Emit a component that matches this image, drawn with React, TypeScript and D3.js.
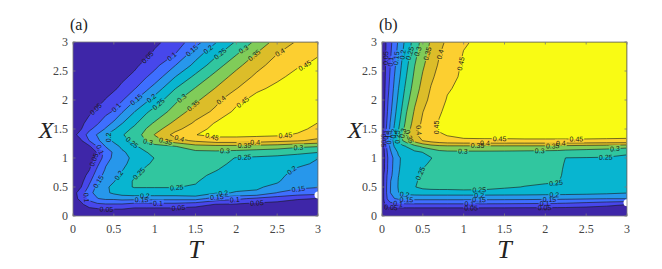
import React from 'react';
import * as d3 from 'd3';

// contour levels and the colour of each filled band (parula, 10 steps)
const levels = [0.05, 0.1, 0.15, 0.2, 0.25, 0.3, 0.35, 0.4, 0.45];
const bandColors = ['#3e26a8', '#4747eb', '#3e6fff', '#2797eb', '#08b5d0', '#31c69f', '#80cc59', '#dcbd29', '#fccf30', '#f9fb14'];

const axisTicks = [0, 0.5, 1, 1.5, 2, 2.5, 3];
const axisTickLabels = ['0', '0.5', '1', '1.5', '2', '2.5', '3'];

// panel (a): one array per T column, values from X = 0 up to X = 3
const tGridA = [0, 0.1, 0.2, 0.3, 0.4, 0.5, 0.6, 0.75, 0.9, 1, 1.25, 1.5, 1.75, 2, 2.25, 2.5, 2.75, 3];
const xGridA = [0, 0.1, 0.2, 0.3, 0.4, 0.5, 0.6, 0.7, 0.8, 0.9, 1, 1.1, 1.2, 1.3, 1.4, 1.5, 1.6, 1.8, 2, 2.2, 2.4, 2.6, 2.8, 3];
const columnsA = [
  [0, 0.01, 0.02, 0.03, 0.03, 0.02, 0.01, 0.01, 0.01, 0.01, 0.01, 0.01, 0.02, 0.03, 0.035, 0.02, 0.01, 0.01, 0.01, 0.01, 0.01, 0.01, 0.01, 0.01],
  [0, 0.02, 0.04, 0.065, 0.075, 0.049, 0.035, 0.025, 0.02, 0.02, 0.02, 0.02, 0.03, 0.045, 0.07, 0.048, 0.038, 0.03, 0.02, 0.01, 0.01, 0.01, 0.01, 0.01],
  [0, 0.03, 0.075, 0.115, 0.135, 0.11, 0.09, 0.068, 0.048, 0.035, 0.025, 0.03, 0.042, 0.102, 0.12, 0.09, 0.07, 0.04, 0.025, 0.015, 0.01, 0.01, 0.01, 0.01],
  [0, 0.035, 0.09, 0.148, 0.17, 0.165, 0.145, 0.13, 0.11, 0.09, 0.062, 0.053, 0.103, 0.14, 0.155, 0.12, 0.095, 0.06, 0.035, 0.02, 0.015, 0.01, 0.01, 0.01],
  [0, 0.04, 0.095, 0.16, 0.19, 0.19, 0.18, 0.165, 0.155, 0.145, 0.13, 0.125, 0.152, 0.18, 0.198, 0.155, 0.128, 0.085, 0.052, 0.035, 0.025, 0.018, 0.012, 0.01],
  [0, 0.04, 0.095, 0.16, 0.21, 0.215, 0.197, 0.185, 0.175, 0.168, 0.16, 0.157, 0.18, 0.21, 0.225, 0.195, 0.16, 0.105, 0.07, 0.043, 0.03, 0.022, 0.016, 0.012],
  [0, 0.04, 0.095, 0.167, 0.225, 0.24, 0.225, 0.21, 0.197, 0.19, 0.185, 0.192, 0.21, 0.235, 0.245, 0.225, 0.198, 0.145, 0.095, 0.06, 0.04, 0.028, 0.02, 0.015],
  [0, 0.028, 0.083, 0.167, 0.233, 0.252, 0.255, 0.245, 0.228, 0.215, 0.21, 0.22, 0.24, 0.262, 0.278, 0.262, 0.24, 0.198, 0.145, 0.095, 0.06, 0.04, 0.028, 0.02],
  [0, 0.028, 0.083, 0.167, 0.233, 0.252, 0.265, 0.268, 0.258, 0.245, 0.238, 0.249, 0.275, 0.303, 0.315, 0.302, 0.285, 0.243, 0.19, 0.14, 0.098, 0.065, 0.04, 0.03],
  [0, 0.028, 0.083, 0.167, 0.233, 0.252, 0.268, 0.272, 0.265, 0.258, 0.251, 0.262, 0.285, 0.33, 0.352, 0.33, 0.305, 0.268, 0.22, 0.17, 0.12, 0.085, 0.057, 0.04],
  [0, 0.028, 0.083, 0.167, 0.233, 0.252, 0.265, 0.27, 0.272, 0.273, 0.274, 0.28, 0.298, 0.38, 0.415, 0.385, 0.362, 0.318, 0.29, 0.248, 0.199, 0.148, 0.098, 0.07],
  [0, 0.025, 0.07, 0.17, 0.24, 0.245, 0.255, 0.262, 0.268, 0.273, 0.278, 0.288, 0.33, 0.41, 0.449, 0.43, 0.408, 0.375, 0.34, 0.303, 0.262, 0.215, 0.177, 0.13],
  [0, 0.02, 0.048, 0.13, 0.205, 0.215, 0.225, 0.24, 0.253, 0.265, 0.275, 0.29, 0.335, 0.43, 0.462, 0.465, 0.455, 0.41, 0.388, 0.353, 0.318, 0.278, 0.238, 0.197],
  [0, 0.018, 0.045, 0.11, 0.198, 0.207, 0.213, 0.22, 0.228, 0.237, 0.247, 0.285, 0.335, 0.43, 0.462, 0.47, 0.472, 0.462, 0.435, 0.398, 0.37, 0.335, 0.295, 0.255],
  [0, 0.015, 0.035, 0.09, 0.195, 0.205, 0.21, 0.215, 0.222, 0.23, 0.242, 0.278, 0.33, 0.425, 0.46, 0.472, 0.478, 0.48, 0.468, 0.44, 0.41, 0.385, 0.352, 0.312],
  [0, 0.012, 0.03, 0.075, 0.148, 0.19, 0.205, 0.212, 0.218, 0.226, 0.238, 0.27, 0.325, 0.415, 0.458, 0.47, 0.477, 0.482, 0.478, 0.462, 0.44, 0.42, 0.399, 0.37],
  [0, 0.01, 0.025, 0.055, 0.13, 0.16, 0.172, 0.182, 0.194, 0.21, 0.232, 0.26, 0.31, 0.405, 0.445, 0.462, 0.472, 0.482, 0.485, 0.48, 0.465, 0.445, 0.425, 0.405],
  [0, 0.01, 0.022, 0.049, 0.12, 0.153, 0.165, 0.175, 0.185, 0.193, 0.201, 0.252, 0.302, 0.39, 0.42, 0.437, 0.449, 0.462, 0.468, 0.468, 0.465, 0.458, 0.447, 0.437],
];

// panel (b): one array per X row, values from T = 0 to T = 3
const tGridB = [0, 0.025, 0.05, 0.075, 0.1, 0.15, 0.2, 0.25, 0.3, 0.4, 0.5, 0.6, 0.7, 0.8, 1, 1.25, 1.5, 1.75, 2, 2.15, 2.25, 2.5, 2.75, 3];
const xGridB = [0, 0.1, 0.2, 0.3, 0.4, 0.5, 0.6, 0.7, 0.8, 0.9, 1, 1.1, 1.2, 1.3, 1.4, 1.5, 1.6, 1.8, 2, 2.2, 2.4, 2.6, 2.8, 3];
const rowsB = [
  [0, 0, 0, 0, 0, 0, 0, 0, 0, 0, 0, 0, 0, 0, 0, 0, 0, 0, 0, 0, 0, 0, 0, 0],
  [0, 0.005, 0.01, 0.013, 0.016, 0.018, 0.02, 0.021, 0.021, 0.021, 0.021, 0.021, 0.021, 0.021, 0.021, 0.021, 0.021, 0.02, 0.02, 0.02, 0.02, 0.02, 0.02, 0.02],
  [0, 0.04, 0.06, 0.075, 0.083, 0.088, 0.09, 0.091, 0.092, 0.093, 0.093, 0.093, 0.093, 0.093, 0.093, 0.093, 0.092, 0.09, 0.088, 0.087, 0.085, 0.075, 0.063, 0.051],
  [0, 0.058, 0.088, 0.11, 0.128, 0.148, 0.158, 0.161, 0.163, 0.164, 0.164, 0.164, 0.164, 0.164, 0.164, 0.164, 0.163, 0.162, 0.16, 0.159, 0.158, 0.155, 0.152, 0.152],
  [0, 0.06, 0.093, 0.122, 0.148, 0.18, 0.198, 0.21, 0.217, 0.222, 0.224, 0.224, 0.224, 0.224, 0.224, 0.224, 0.223, 0.222, 0.22, 0.219, 0.218, 0.215, 0.21, 0.202],
  [0, 0.06, 0.093, 0.122, 0.148, 0.172, 0.203, 0.215, 0.225, 0.248, 0.262, 0.268, 0.27, 0.27, 0.276, 0.272, 0.257, 0.248, 0.24, 0.236, 0.228, 0.225, 0.22, 0.215],
  [0, 0.058, 0.09, 0.12, 0.147, 0.17, 0.202, 0.213, 0.222, 0.243, 0.263, 0.272, 0.277, 0.278, 0.28, 0.278, 0.268, 0.262, 0.258, 0.255, 0.233, 0.23, 0.226, 0.222],
  [0, 0.056, 0.087, 0.115, 0.138, 0.165, 0.199, 0.21, 0.22, 0.24, 0.258, 0.27, 0.28, 0.282, 0.283, 0.282, 0.275, 0.27, 0.265, 0.262, 0.237, 0.234, 0.231, 0.228],
  [0, 0.042, 0.078, 0.108, 0.132, 0.163, 0.197, 0.207, 0.215, 0.232, 0.252, 0.265, 0.277, 0.284, 0.285, 0.285, 0.28, 0.276, 0.27, 0.265, 0.24, 0.238, 0.236, 0.233],
  [0, 0.042, 0.077, 0.107, 0.13, 0.162, 0.196, 0.205, 0.212, 0.226, 0.24, 0.258, 0.274, 0.286, 0.287, 0.287, 0.284, 0.28, 0.275, 0.268, 0.244, 0.242, 0.24, 0.238],
  [0, 0.04, 0.075, 0.105, 0.128, 0.16, 0.195, 0.205, 0.211, 0.222, 0.234, 0.248, 0.268, 0.288, 0.289, 0.289, 0.287, 0.284, 0.28, 0.272, 0.249, 0.248, 0.247, 0.244],
  [0, 0.044, 0.082, 0.114, 0.14, 0.18, 0.205, 0.218, 0.228, 0.24, 0.251, 0.265, 0.285, 0.29, 0.291, 0.291, 0.29, 0.288, 0.286, 0.284, 0.28, 0.275, 0.27, 0.255],
  [0, 0.05, 0.092, 0.128, 0.158, 0.201, 0.22, 0.237, 0.252, 0.285, 0.31, 0.328, 0.337, 0.34, 0.34, 0.34, 0.34, 0.34, 0.34, 0.34, 0.335, 0.33, 0.325, 0.318],
  [0, 0.06, 0.105, 0.148, 0.175, 0.215, 0.262, 0.298, 0.325, 0.37, 0.402, 0.42, 0.432, 0.44, 0.445, 0.445, 0.445, 0.446, 0.446, 0.446, 0.446, 0.446, 0.445, 0.445],
  [0, 0.058, 0.102, 0.13, 0.163, 0.21, 0.254, 0.303, 0.336, 0.39, 0.42, 0.437, 0.445, 0.452, 0.458, 0.46, 0.46, 0.46, 0.46, 0.46, 0.46, 0.46, 0.46, 0.458],
  [0, 0.056, 0.097, 0.128, 0.157, 0.205, 0.246, 0.287, 0.324, 0.38, 0.415, 0.441, 0.455, 0.46, 0.465, 0.47, 0.475, 0.478, 0.48, 0.48, 0.48, 0.48, 0.479, 0.478],
  [0, 0.053, 0.09, 0.121, 0.151, 0.197, 0.237, 0.277, 0.314, 0.371, 0.41, 0.435, 0.452, 0.46, 0.466, 0.472, 0.478, 0.48, 0.482, 0.482, 0.482, 0.482, 0.481, 0.48],
  [0, 0.046, 0.079, 0.11, 0.136, 0.183, 0.223, 0.26, 0.298, 0.356, 0.399, 0.423, 0.447, 0.456, 0.464, 0.472, 0.478, 0.481, 0.483, 0.484, 0.484, 0.484, 0.484, 0.483],
  [0, 0.04, 0.072, 0.101, 0.125, 0.17, 0.21, 0.245, 0.281, 0.34, 0.382, 0.413, 0.435, 0.453, 0.462, 0.471, 0.477, 0.481, 0.484, 0.485, 0.485, 0.486, 0.486, 0.486],
  [0, 0.036, 0.065, 0.091, 0.115, 0.159, 0.198, 0.232, 0.265, 0.324, 0.368, 0.403, 0.425, 0.446, 0.46, 0.47, 0.477, 0.481, 0.484, 0.486, 0.486, 0.487, 0.488, 0.488],
  [0, 0.033, 0.061, 0.084, 0.106, 0.149, 0.186, 0.219, 0.251, 0.311, 0.356, 0.391, 0.415, 0.435, 0.458, 0.469, 0.476, 0.48, 0.484, 0.486, 0.486, 0.487, 0.488, 0.489],
  [0, 0.03, 0.057, 0.077, 0.098, 0.139, 0.175, 0.209, 0.239, 0.299, 0.343, 0.377, 0.406, 0.426, 0.456, 0.468, 0.475, 0.48, 0.483, 0.485, 0.486, 0.487, 0.488, 0.489],
  [0, 0.027, 0.053, 0.072, 0.092, 0.13, 0.165, 0.198, 0.227, 0.285, 0.33, 0.366, 0.397, 0.417, 0.452, 0.466, 0.474, 0.479, 0.483, 0.485, 0.486, 0.488, 0.489, 0.49],
  [0, 0.025, 0.051, 0.068, 0.086, 0.121, 0.156, 0.188, 0.217, 0.272, 0.319, 0.356, 0.385, 0.409, 0.445, 0.462, 0.472, 0.478, 0.482, 0.484, 0.485, 0.487, 0.488, 0.49],
];

// contour labels: [T, X, level], snapped onto the nearest line of that level
const labelsA = [
  [0.29, 1.83, 0.05], [0.53, 1.87, 0.1], [0.78, 2.0, 0.15], [0.96, 2.03, 0.2], [1.04, 1.94, 0.25],
  [1.33, 2.03, 0.3], [1.47, 1.91, 0.35], [1.78, 2.06, 0.4], [2.09, 1.94, 0.45],
  [0.92, 2.72, 0.05], [1.21, 2.75, 0.1], [1.45, 2.86, 0.15], [1.66, 2.86, 0.2], [1.8, 2.8, 0.25],
  [2.09, 2.87, 0.3], [2.23, 2.75, 0.35], [2.53, 2.83, 0.4], [2.82, 2.66, 0.45],
  [0.44, 1.36, 0.2], [0.35, 1.17, 0.1], [0.72, 1.26, 0.25], [0.92, 1.29, 0.3], [1.13, 1.26, 0.35], [1.3, 1.32, 0.4],
  [1.7, 1.34, 0.45], [1.86, 1.15, 0.3], [2.1, 1.22, 0.35], [2.23, 1.28, 0.4], [2.6, 1.4, 0.45], [2.76, 1.19, 0.3],
  [2.1, 1.02, 0.25], [2.66, 0.82, 0.2], [2.76, 0.45, 0.15],
  [1.84, 0.42, 0.2], [1.76, 0.35, 0.15], [1.98, 0.29, 0.1], [2.25, 0.24, 0.05],
  [0.29, 0.94, 0.05], [0.31, 0.59, 0.15], [0.58, 0.68, 0.2], [0.82, 0.71, 0.25], [1.27, 0.49, 0.25],
  [0.88, 0.35, 0.2], [0.84, 0.28, 0.15], [1.04, 0.22, 0.1], [1.29, 0.16, 0.05], [0.13, 0.3, 0.1], [0.41, 0.12, 0.05],
];
const labelsB = [
  [0.95, 2.63, 0.45], [0.73, 2.78, 0.4], [0.56, 2.8, 0.35], [0.465, 2.83, 0.3], [0.36, 2.8, 0.25],
  [0.26, 2.78, 0.2], [0.18, 2.72, 0.15], [0.11, 2.66, 0.1], [0.05, 2.72, 0.05],
  [0.64, 1.54, 0.45], [0.45, 1.48, 0.4], [0.34, 1.37, 0.35],
  [0.27, 1.42, 0.3], [0.2, 1.36, 0.25], [0.14, 1.42, 0.2], [0.09, 1.35, 0.15], [0.05, 1.4, 0.1], [0.02, 1.3, 0.05],
  [1.44, 1.31, 0.45], [2.38, 1.34, 0.45], [1.26, 1.25, 0.4], [2.19, 1.26, 0.4], [1.17, 1.21, 0.35], [2.09, 1.21, 0.35],
  [0.99, 1.14, 0.3], [1.93, 1.15, 0.3], [2.85, 1.18, 0.3], [2.74, 1.05, 0.25], [2.13, 0.56, 0.25], [1.19, 0.45, 0.25],
  [0.46, 0.74, 0.25],
  [0.28, 0.4, 0.2], [1.19, 0.36, 0.2], [2.11, 0.37, 0.2],
  [0.3, 0.29, 0.15], [1.19, 0.28, 0.15], [2.05, 0.29, 0.15],
  [0.2, 0.25, 0.1], [1.07, 0.22, 0.1], [1.99, 0.25, 0.1],
  [0.11, 0.17, 0.05], [1.09, 0.13, 0.05], [1.99, 0.16, 0.05],
];

// X position of the white marker on the right edge of each panel
const markerA = 0.36;
const markerB = 0.23;

const W = 662;
const H = 269;
const plotTop = 42;
const plotBottom = 216;
const plotW = 245;
const serif = '"Liberation Serif", "Times New Roman", serif';
const sans = '"Liberation Sans", Arial, sans-serif';

function ContourPanel({ id, left, tGrid, xGrid, values, labels, marker, tag }) {
  const right = left + plotW;
  const xScale = d3.scaleLinear().domain([0, 3]).range([left, right]);
  const yScale = d3.scaleLinear().domain([0, 3]).range([plotBottom, plotTop]);
  const n = tGrid.length;
  const m = xGrid.length;
  const tAt = d3.scaleLinear().domain(d3.range(n)).range(tGrid).clamp(true);
  const xAt = d3.scaleLinear().domain(d3.range(m)).range(xGrid).clamp(true);
  const toPx = (p) => [xScale(tAt(p[0] - 0.5)), yScale(xAt(p[1] - 0.5))];
  const path = d3.geoPath(d3.geoTransform({
    point(x, y) {
      const q = toPx([x, y]);
      this.stream.point(q[0], q[1]);
    },
  }));
  const contours = d3.contours().size([n, m]).thresholds(levels)(values);

  const eps = 0.01;
  const sameEdge = (a, b) =>
    (Math.abs(a[0] - left) < eps && Math.abs(b[0] - left) < eps) ||
    (Math.abs(a[0] - right) < eps && Math.abs(b[0] - right) < eps) ||
    (Math.abs(a[1] - plotTop) < eps && Math.abs(b[1] - plotTop) < eps) ||
    (Math.abs(a[1] - plotBottom) < eps && Math.abs(b[1] - plotBottom) < eps);

  const placed = labels.map(([t, x, lev]) => {
    const geom = contours.find((c) => Math.abs(c.value - lev) < 1e-9);
    const tx = xScale(t);
    const ty = yScale(x);
    let best = { d: Infinity, x: tx, y: ty, a: 0 };
    geom.coordinates.forEach((poly) => poly.forEach((ring) => {
      const pts = ring.map(toPx);
      for (let i = 0; i < pts.length - 1; i++) {
        const a = pts[i];
        const b = pts[i + 1];
        if (sameEdge(a, b)) continue;
        const dx = b[0] - a[0];
        const dy = b[1] - a[1];
        const len2 = dx * dx + dy * dy;
        if (len2 < 1e-9) continue;
        let u = ((tx - a[0]) * dx + (ty - a[1]) * dy) / len2;
        u = Math.max(0, Math.min(1, u));
        const qx = a[0] + u * dx;
        const qy = a[1] + u * dy;
        const d = (qx - tx) ** 2 + (qy - ty) ** 2;
        if (d < best.d) {
          const p0 = pts[Math.max(0, i - 1)];
          const p1 = pts[Math.min(pts.length - 1, i + 2)];
          let ang = (Math.atan2(p1[1] - p0[1], p1[0] - p0[0]) * 180) / Math.PI;
          if (ang > 90) ang -= 180;
          if (ang < -90) ang += 180;
          best = { d, x: qx, y: qy, a: ang };
        }
      }
    }));
    const text = String(lev);
    const w = text.replace('.', '').length * 3.9 + 1.95;
    return { ...best, text, w };
  });

  return (
    <g>
      <defs>
        <clipPath id={`inner-${id}`}>
          <rect x={left + 0.7} y={plotTop + 0.7} width={plotW - 1.4} height={plotBottom - plotTop - 1.4} />
        </clipPath>
        <mask id={`gaps-${id}`} maskUnits="userSpaceOnUse" x={0} y={0} width={W} height={H}>
          <rect x={0} y={0} width={W} height={H} fill="#fff" />
          {placed.map((l, i) => (
            <rect key={i} x={-l.w / 2 - 1} y={-3.6} width={l.w + 2} height={7.2} fill="#000"
              transform={`translate(${l.x},${l.y}) rotate(${l.a})`} />
          ))}
        </mask>
      </defs>

      <rect x={left} y={plotTop} width={plotW} height={plotBottom - plotTop} fill={bandColors[0]} />
      {contours.map((c, i) => (
        <path key={i} d={path(c)} fill={bandColors[i + 1]} stroke="none" />
      ))}
      <g clipPath={`url(#inner-${id})`} mask={`url(#gaps-${id})`}>
        {contours.map((c, i) => (
          <path key={i} d={path(c)} fill="none" stroke="#1a1a1a" strokeWidth={0.6} strokeLinejoin="round" />
        ))}
      </g>
      {placed.map((l, i) => (
        <text key={i} transform={`translate(${l.x},${l.y}) rotate(${l.a})`} textAnchor="middle" dy="0.36em"
          fontFamily={sans} fontSize={7} fill="#1a1a1a">{l.text}</text>
      ))}

      <circle cx={right} cy={yScale(marker)} r={3.5} fill="#fff" />

      <rect x={left} y={plotTop} width={plotW} height={plotBottom - plotTop} fill="none" stroke="#7a7a7a" strokeWidth={0.8} />
      {axisTicks.map((v, i) => (
        <g key={i} stroke="#7a7a7a" strokeWidth={0.8}>
          <line x1={xScale(v)} x2={xScale(v)} y1={plotBottom} y2={plotBottom - 2.5} />
          <line x1={xScale(v)} x2={xScale(v)} y1={plotTop} y2={plotTop + 2.5} />
          <line x1={left} x2={left + 2.5} y1={yScale(v)} y2={yScale(v)} />
          <line x1={right} x2={right - 2.5} y1={yScale(v)} y2={yScale(v)} />
        </g>
      ))}
      {axisTicks.map((v, i) => (
        <text key={`x${i}`} x={xScale(v)} y={233} textAnchor="middle" fontFamily={serif} fontSize={12} fill="#444">
          {axisTickLabels[i]}
        </text>
      ))}
      {axisTicks.map((v, i) => (
        <text key={`y${i}`} x={left - 5} y={yScale(v)} dy="0.33em" textAnchor="end" fontFamily={serif} fontSize={12} fill="#444">
          {axisTickLabels[i]}
        </text>
      ))}
      <text x={left + plotW / 2} y={258} textAnchor="middle" fontFamily={serif} fontStyle="italic" fontSize={26} fill="#222">T</text>
      <text x={left - 27} y={138} textAnchor="middle" fontFamily={serif} fontStyle="italic" fontSize={24} fill="#222">X</text>
      <text x={left - 3} y={30} fontFamily={serif} fontSize={16} fill="#222">{tag}</text>
    </g>
  );
}

export default function App() {
  const n = tGridA.length;
  const m = xGridA.length;
  const valuesA = new Array(n * m);
  columnsA.forEach((col, i) => col.forEach((v, j) => { valuesA[j * n + i] = v; }));
  const valuesB = rowsB.flat();

  return (
    <svg width={W} height={H} viewBox={`0 0 ${W} ${H}`}
      style={{ position: 'absolute', left: 0, top: 0, display: 'block', background: '#fff' }}>
      <ContourPanel id="a" left={73} tGrid={tGridA} xGrid={xGridA} values={valuesA} labels={labelsA} marker={markerA} tag="(a)" />
      <ContourPanel id="b" left={382} tGrid={tGridB} xGrid={xGridB} values={valuesB} labels={labelsB} marker={markerB} tag="(b)" />
    </svg>
  );
}
